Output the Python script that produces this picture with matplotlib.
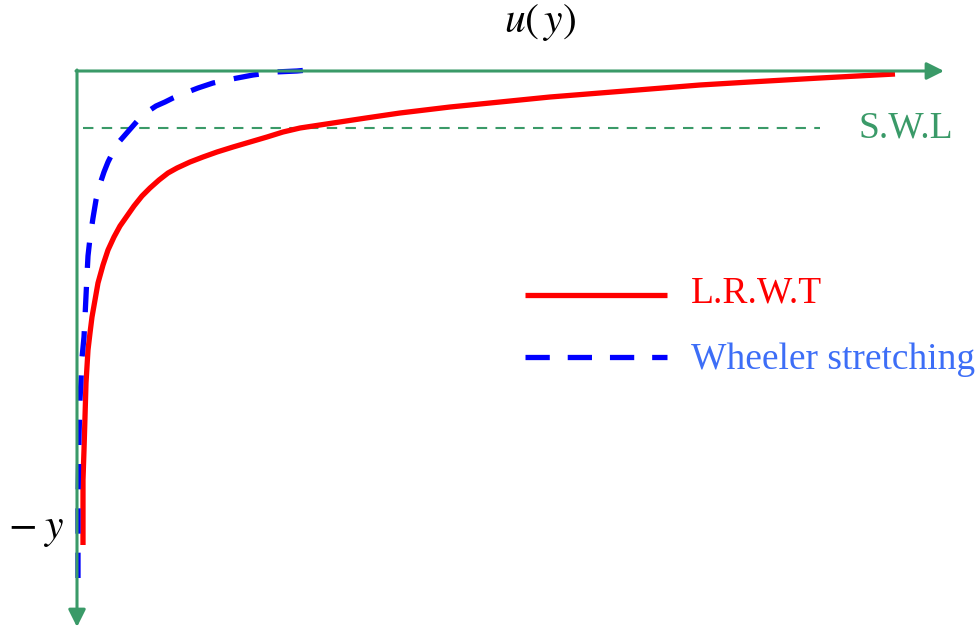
import matplotlib.pyplot as plt

# 図の座標は画像のピクセル単位（左上が原点）
W, H = 979, 629

# L.R.W.T の速度分布（x, y）
lrwt_x = [83, 83, 84, 85, 86, 88, 90, 92, 95, 98, 103, 108, 114, 120, 127, 134, 142, 150,
          159, 168, 177, 190, 203, 217, 233, 250, 267, 283, 300, 333, 366, 400, 450,
          500, 550, 600, 650, 700, 750, 820, 895]
lrwt_y = [545, 480, 450, 417, 383, 350, 333, 317, 300, 283, 265, 250, 237, 226, 216, 206, 196, 188,
          180, 173, 168, 162, 157, 152, 147, 142, 137, 132, 128, 123, 118, 113, 107,
          102, 97, 93, 89, 85, 82, 78, 74]

# Wheeler stretching の速度分布
wheeler_x = [78, 78, 79, 80, 81, 82, 84, 85, 86, 87, 88, 90, 93, 96, 100, 104, 108, 113, 118,
             125, 132, 139, 147, 156, 165, 173, 185, 198, 213, 232, 253, 275, 297, 308]
wheeler_y = [578, 500, 437, 400, 380, 358, 337, 317, 296, 275, 256, 238, 218, 200, 184, 172, 162, 152, 143,
             135, 127, 119, 112, 106, 102, 98, 93, 88, 83, 79, 75, 72, 71, 70]

# 静水面の高さ
swl_y = 128

green = '#3a9a68'
red = '#ff0000'
blue = '#0000ff'
blue_text = '#3d6ef7'

plt.rcParams['mathtext.fontset'] = 'stix'
serif = ['Liberation Serif', 'DejaVu Serif']

fig = plt.figure(figsize=(W / 100, H / 100), dpi=100)
ax = fig.add_axes([0, 0, 1, 1])
ax.set_xlim(0, W)
ax.set_ylim(H, 0)
ax.axis('off')

# 座標軸（矢印）
ax.annotate('', xy=(944, 71), xytext=(76, 71),
            arrowprops=dict(arrowstyle='-|>', color=green, lw=2.2,
                            mutation_scale=26, shrinkA=0, shrinkB=0))
ax.annotate('', xy=(77, 627), xytext=(77, 70),
            arrowprops=dict(arrowstyle='-|>', color=green, lw=2.2,
                            mutation_scale=26, shrinkA=0, shrinkB=0))

# S.W.L
ax.plot([83, 820], [swl_y, swl_y], color=green, lw=1.5, dashes=(5, 4))
ax.text(859, swl_y, 'S.W.L', color=green, fontsize=27, family=serif,
        va='center', ha='left')

# 曲線
ax.plot(lrwt_x, lrwt_y, color=red, lw=3.8, solid_capstyle='butt',
        solid_joinstyle='round')
ax.plot(wheeler_x, wheeler_y, color=blue, lw=3.8, dashes=(4.8, 3.6),
        dash_capstyle='butt')

# 凡例
ax.plot([525, 667], [295, 295], color=red, lw=3.8, solid_capstyle='butt')
ax.plot([525, 667], [357, 357], color=blue, lw=3.8, dashes=(4.6, 3.4),
        dash_capstyle='butt')
ax.text(691, 293, 'L.R.W.T', color=red, fontsize=27, family=serif,
        va='center', ha='left')
ax.text(691, 360, 'Wheeler stretching', color=blue_text, fontsize=27,
        family=serif, va='center', ha='left')

# 軸ラベル
ax.text(540, 22, r'$u(\,y)$', fontsize=30, ha='center', va='center')
ax.text(36, 528, r'$-\;y$', fontsize=30, ha='center', va='center')

fig.savefig('out.png', dpi=100)
